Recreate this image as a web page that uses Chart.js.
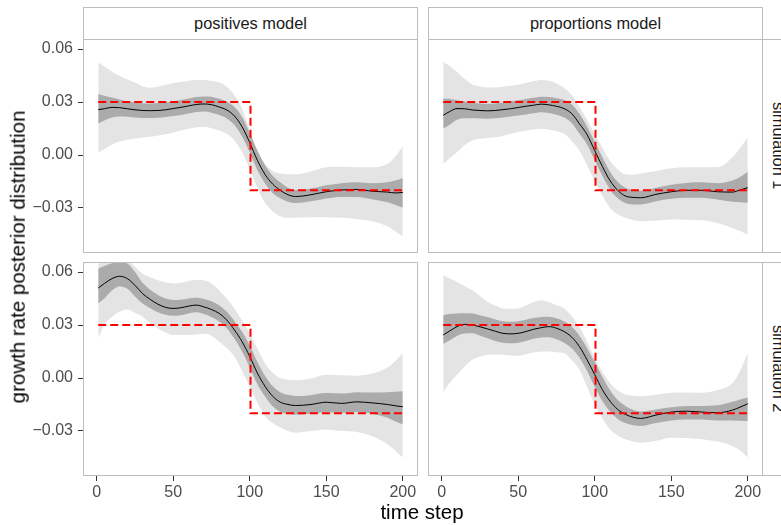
<!DOCTYPE html>
<html>
<head>
<meta charset="utf-8">
<script src="https://cdn.jsdelivr.net/npm/chart.js@4.4.1/dist/chart.umd.min.js"></script>
<style>
  html, body { margin: 0; padding: 0; background: #fff; }
  #wrap { position: relative; width: 781px; height: 525px; overflow: hidden; font-family: "Liberation Sans", Arial, sans-serif; }
  canvas { position: absolute; }
  .strip { position: absolute; box-sizing: border-box; border: 1px solid #bdbdbd; background: #fff; color: #1a1a1a;
           font-size: 16.4px; line-height: 1; display: flex; align-items: center; justify-content: center; white-space: nowrap; }
  .strip.side { writing-mode: vertical-rl; }
  .title { position: absolute; color: #000; font-size: 20.5px; line-height: 1; white-space: nowrap; transform: translate(-50%, -50%); }
</style>
</head>
<body>
<div id="wrap">
  <div class="strip" style="left:83px; top:7px; width:335px; height:33px;">positives model</div>
  <div class="strip" style="left:428px; top:7px; width:335px; height:33px;">proportions model</div>
  <div class="strip side" style="left:762px; top:39px; width:33px; height:214px;">simulation 1</div>
  <div class="strip side" style="left:762px; top:262px; width:33px; height:214px;">simulation 2</div>

  <canvas id="c11" width="418" height="214" style="left:0px; top:39px;"></canvas>
  <canvas id="c12" width="335" height="214" style="left:428px; top:39px;"></canvas>
  <canvas id="c21" width="418" height="249" style="left:0px; top:262px;"></canvas>
  <canvas id="c22" width="335" height="249" style="left:428px; top:262px;"></canvas>

  <div class="title" style="left:18px; top:257px; transform: translate(-50%, -50%) rotate(-90deg);">growth rate posterior distribution</div>
  <div class="title" style="left:422px; top:512px;">time step</div>
</div>

<script>
// time steps at which the posterior summaries are read
const timeSteps = [1, 5, 10, 15, 20, 25, 30, 35, 40, 45, 50, 55, 60, 65, 70, 75, 80, 85, 90, 95, 100,
                   105, 110, 115, 120, 125, 130, 140, 150, 160, 170, 180, 190, 195, 200];

// true growth rate (step)
const truthSteps = [1, 100.5, 100.5, 200];
const truthValues = [0.03, 0.03, -0.02, -0.02];

const xTicks = [0, 50, 100, 150, 200];
const yTicks = [-0.03, 0, 0.03, 0.06];

// positives model, simulation 1
const posSim1Median = [0.0257, 0.0262, 0.0270, 0.0268, 0.0262, 0.0256, 0.0252, 0.0251, 0.0252, 0.0256, 0.0263,
  0.0270, 0.0278, 0.0286, 0.0289, 0.0285, 0.0272, 0.0255, 0.0221, 0.0160, 0.0070, -0.0030, -0.0110, -0.0165,
  -0.0200, -0.0225, -0.0235, -0.0225, -0.0208, -0.0198, -0.0195, -0.0205, -0.0210, -0.0215, -0.0212];
const posSim1DarkHi = [0.0345, 0.0335, 0.0325, 0.0315, 0.0305, 0.0298, 0.0293, 0.0292, 0.0294, 0.0298, 0.0305,
  0.0312, 0.0320, 0.0328, 0.0332, 0.0330, 0.0318, 0.0302, 0.0272, 0.0215, 0.0125, 0.0025, -0.0058, -0.0117,
  -0.0155, -0.0185, -0.0198, -0.0190, -0.0172, -0.0160, -0.0155, -0.0160, -0.0155, -0.0145, -0.0130];
const posSim1DarkLo = [0.0177, 0.0195, 0.0212, 0.0218, 0.0216, 0.0212, 0.0210, 0.0210, 0.0211, 0.0215, 0.0221,
  0.0227, 0.0235, 0.0243, 0.0246, 0.0240, 0.0226, 0.0207, 0.0170, 0.0105, 0.0015, -0.0085, -0.0162, -0.0215,
  -0.0245, -0.0265, -0.0272, -0.0262, -0.0246, -0.0238, -0.0238, -0.0250, -0.0268, -0.0282, -0.0298];
const posSim1LightHi = [0.0524, 0.0501, 0.0472, 0.0448, 0.0429, 0.0410, 0.0390, 0.0381, 0.0387, 0.0398, 0.0406,
  0.0413, 0.0421, 0.0425, 0.0425, 0.0419, 0.0410, 0.0387, 0.0339, 0.0263, 0.0139, 0.0025, -0.0051, -0.0090,
  -0.0105, -0.0109, -0.0109, -0.0093, -0.0070, -0.0067, -0.0070, -0.0070, -0.0051, -0.0010, 0.0048];
const posSim1LightLo = [0.0015, 0.0034, 0.0059, 0.0076, 0.0086, 0.0093, 0.0099, 0.0103, 0.0110, 0.0118, 0.0128,
  0.0139, 0.0149, 0.0156, 0.0158, 0.0152, 0.0139, 0.0120, 0.0082, 0.0015, -0.0080, -0.0185, -0.0270, -0.0318,
  -0.0347, -0.0356, -0.0356, -0.0352, -0.0352, -0.0356, -0.0362, -0.0375, -0.0404, -0.0432, -0.0461];

// proportions model, simulation 1
const propSim1Median = [0.0225, 0.0245, 0.0263, 0.0262, 0.0255, 0.0252, 0.0250, 0.0252, 0.0257, 0.0262, 0.0269,
  0.0276, 0.0282, 0.0288, 0.0284, 0.0276, 0.0263, 0.0234, 0.0177, 0.0115, 0.0025, -0.0065, -0.0145, -0.0200,
  -0.0232, -0.0240, -0.0242, -0.0223, -0.0208, -0.0200, -0.0200, -0.0208, -0.0210, -0.0198, -0.0185];
const propSim1DarkHi = [0.0320, 0.0318, 0.0310, 0.0303, 0.0296, 0.0292, 0.0290, 0.0292, 0.0298, 0.0304, 0.0310,
  0.0317, 0.0324, 0.0330, 0.0328, 0.0322, 0.0312, 0.0287, 0.0233, 0.0160, 0.0075, -0.0013, -0.0095, -0.0153,
  -0.0185, -0.0198, -0.0202, -0.0185, -0.0168, -0.0158, -0.0155, -0.0160, -0.0145, -0.0125, -0.0095];
const propSim1DarkLo = [0.0150, 0.0170, 0.0200, 0.0208, 0.0208, 0.0207, 0.0206, 0.0208, 0.0213, 0.0218, 0.0224,
  0.0230, 0.0236, 0.0242, 0.0238, 0.0228, 0.0212, 0.0180, 0.0120, 0.0060, -0.0030, -0.0118, -0.0195, -0.0245,
  -0.0272, -0.0280, -0.0280, -0.0262, -0.0248, -0.0242, -0.0242, -0.0252, -0.0265, -0.0268, -0.0270];
const propSim1LightHi = [0.0530, 0.0505, 0.0470, 0.0430, 0.0400, 0.0388, 0.0383, 0.0383, 0.0387, 0.0392, 0.0398,
  0.0408, 0.0418, 0.0425, 0.0420, 0.0405, 0.0380, 0.0340, 0.0272, 0.0200, 0.0120, 0.0040, -0.0032, -0.0080,
  -0.0109, -0.0112, -0.0105, -0.0090, -0.0075, -0.0070, -0.0070, -0.0070, -0.0013, 0.0040, 0.0101];
const propSim1LightLo = [-0.0051, -0.0020, 0.0015, 0.0055, 0.0082, 0.0092, 0.0097, 0.0100, 0.0108, 0.0120, 0.0130,
  0.0138, 0.0145, 0.0149, 0.0145, 0.0135, 0.0120, 0.0080, 0.0025, -0.0060, -0.0147, -0.0230, -0.0300, -0.0335,
  -0.0356, -0.0368, -0.0375, -0.0372, -0.0365, -0.0366, -0.0370, -0.0385, -0.0413, -0.0430, -0.0451];

// positives model, simulation 2
const posSim2Median = [0.0510, 0.0535, 0.0563, 0.0576, 0.0563, 0.0525, 0.0478, 0.0445, 0.0418, 0.0400, 0.0394,
  0.0398, 0.0407, 0.0413, 0.0403, 0.0388, 0.0366, 0.0328, 0.0272, 0.0206, 0.0122, 0.0028, -0.0047, -0.0103,
  -0.0137, -0.0150, -0.0156, -0.0150, -0.0137, -0.0144, -0.0135, -0.0141, -0.0150, -0.0157, -0.0163];
const posSim2DarkHi = [0.0619, 0.0635, 0.0650, 0.0655, 0.0648, 0.0600, 0.0540, 0.0500, 0.0470, 0.0450, 0.0442,
  0.0443, 0.0450, 0.0455, 0.0448, 0.0435, 0.0412, 0.0375, 0.0322, 0.0262, 0.0185, 0.0090, 0.0012, -0.0045,
  -0.0080, -0.0095, -0.0102, -0.0097, -0.0085, -0.0088, -0.0080, -0.0082, -0.0080, -0.0078, -0.0075];
const posSim2DarkLo = [0.0422, 0.0450, 0.0495, 0.0520, 0.0505, 0.0462, 0.0422, 0.0395, 0.0372, 0.0358, 0.0352,
  0.0355, 0.0365, 0.0372, 0.0362, 0.0345, 0.0320, 0.0282, 0.0222, 0.0150, 0.0060, -0.0035, -0.0105, -0.0160,
  -0.0192, -0.0203, -0.0208, -0.0203, -0.0192, -0.0197, -0.0192, -0.0202, -0.0225, -0.0245, -0.0263];
const posSim2LightHi = [0.0647, 0.0660, 0.0670, 0.0670, 0.0665, 0.0630, 0.0590, 0.0570, 0.0553, 0.0542, 0.0535,
  0.0540, 0.0550, 0.0555, 0.0553, 0.0535, 0.0497, 0.0450, 0.0394, 0.0325, 0.0253, 0.0165, 0.0084, 0.0030,
  0.0000, -0.0010, -0.0013, -0.0003, 0.0019, 0.0015, 0.0013, 0.0025, 0.0060, 0.0095, 0.0141];
const posSim2LightLo = [0.0225, 0.0300, 0.0347, 0.0375, 0.0388, 0.0370, 0.0347, 0.0310, 0.0281, 0.0258, 0.0244,
  0.0244, 0.0244, 0.0247, 0.0250, 0.0240, 0.0206, 0.0170, 0.0122, 0.0040, -0.0050, -0.0140, -0.0216, -0.0255,
  -0.0281, -0.0300, -0.0310, -0.0300, -0.0291, -0.0300, -0.0306, -0.0330, -0.0375, -0.0410, -0.0450];

// proportions model, simulation 2
const propSim2Median = [0.0244, 0.0265, 0.0291, 0.0304, 0.0300, 0.0290, 0.0278, 0.0265, 0.0253, 0.0250, 0.0253,
  0.0263, 0.0276, 0.0285, 0.0291, 0.0282, 0.0263, 0.0231, 0.0178, 0.0103, 0.0019, -0.0066, -0.0131, -0.0178,
  -0.0206, -0.0222, -0.0229, -0.0210, -0.0193, -0.0188, -0.0193, -0.0197, -0.0182, -0.0165, -0.0146];
const propSim2DarkHi = [0.0356, 0.0362, 0.0366, 0.0367, 0.0366, 0.0356, 0.0345, 0.0332, 0.0322, 0.0319, 0.0322,
  0.0330, 0.0340, 0.0346, 0.0347, 0.0338, 0.0320, 0.0290, 0.0240, 0.0170, 0.0090, 0.0005, -0.0070, -0.0125,
  -0.0158, -0.0180, -0.0190, -0.0178, -0.0165, -0.0159, -0.0158, -0.0155, -0.0135, -0.0122, -0.0110];
const propSim2DarkLo = [0.0193, 0.0212, 0.0238, 0.0252, 0.0253, 0.0240, 0.0225, 0.0210, 0.0200, 0.0197, 0.0200,
  0.0210, 0.0222, 0.0230, 0.0231, 0.0220, 0.0200, 0.0168, 0.0115, 0.0040, -0.0050, -0.0130, -0.0190, -0.0232,
  -0.0255, -0.0268, -0.0272, -0.0255, -0.0240, -0.0235, -0.0235, -0.0240, -0.0240, -0.0242, -0.0244];
const propSim2LightHi = [0.0582, 0.0565, 0.0544, 0.0520, 0.0497, 0.0465, 0.0432, 0.0410, 0.0394, 0.0392, 0.0394,
  0.0410, 0.0430, 0.0441, 0.0430, 0.0412, 0.0394, 0.0350, 0.0291, 0.0205, 0.0113, 0.0035, -0.0028, -0.0070,
  -0.0094, -0.0100, -0.0103, -0.0095, -0.0084, -0.0082, -0.0084, -0.0070, -0.0028, 0.0040, 0.0141];
const propSim2LightLo = [-0.0084, -0.0030, 0.0019, 0.0065, 0.0103, 0.0120, 0.0131, 0.0133, 0.0131, 0.0128, 0.0126,
  0.0135, 0.0145, 0.0150, 0.0150, 0.0146, 0.0141, 0.0100, 0.0047, -0.0050, -0.0150, -0.0228, -0.0291, -0.0325,
  -0.0347, -0.0360, -0.0366, -0.0355, -0.0338, -0.0340, -0.0347, -0.0360, -0.0385, -0.0410, -0.0450];

const tickFont = { family: '"Liberation Sans", Arial, sans-serif', size: 16 };

function xy(xs, ys) {
  return xs.map((x, i) => ({ x: x, y: ys[i] }));
}

// grey frame round each panel, drawn over the data like ggplot's panel.border
const panelBorder = {
  id: 'panelBorder',
  afterDraw(chart) {
    const a = chart.chartArea;
    const ctx = chart.ctx;
    ctx.save();
    ctx.strokeStyle = '#bdbdbd';
    ctx.lineWidth = 1;
    ctx.strokeRect(a.left + 0.5, a.top + 0.5, a.right - a.left - 1, a.bottom - a.top - 1);
    ctx.restore();
  }
};

function band(values, fill, color) {
  return {
    data: xy(timeSteps, values),
    borderWidth: 0,
    borderColor: 'rgba(0,0,0,0)',
    backgroundColor: color,
    fill: fill,
    pointRadius: 0,
    cubicInterpolationMode: 'monotone'
  };
}

function makePanel(id, med, darkLo, darkHi, lightLo, lightHi, showY, showX) {
  new Chart(document.getElementById(id), {
    type: 'line',
    data: {
      datasets: [
        { data: xy(truthSteps, truthValues), borderColor: '#ff0000', borderWidth: 2, borderDash: [8, 4],
          pointRadius: 0, fill: false, tension: 0 },
        { data: xy(timeSteps, med), borderColor: '#000000', borderWidth: 1, pointRadius: 0, fill: false,
          cubicInterpolationMode: 'monotone' },
        band(darkHi, '+1', '#ababab'),
        band(darkLo, false, '#ababab'),
        band(lightHi, '+1', '#e4e4e4'),
        band(lightLo, false, '#e4e4e4')
      ]
    },
    options: {
      responsive: false,
      animation: false,
      events: [],
      layout: { padding: 0 },
      plugins: { legend: { display: false }, tooltip: { enabled: false } },
      scales: {
        x: {
          type: 'linear',
          display: showX,
          min: -8.95,
          max: 209.95,
          afterBuildTicks: s => { s.ticks = xTicks.map(v => ({ value: v })); },
          afterFit: s => { s.height = showX ? 35 : 0; s.paddingLeft = 0; s.paddingRight = 0; },
          grid: { drawOnChartArea: false, drawTicks: true, tickLength: 5, color: '#333333' },
          border: { display: false },
          ticks: { font: tickFont, color: '#4d4d4d', padding: 2, maxRotation: 0, callback: v => String(v) }
        },
        y: {
          type: 'linear',
          display: showY,
          min: -0.0555,
          max: 0.0657,
          afterBuildTicks: s => { s.ticks = yTicks.map(v => ({ value: v })); },
          afterFit: s => { s.width = showY ? 83 : 0; s.paddingTop = 0; s.paddingBottom = 0; },
          grid: { drawOnChartArea: false, drawTicks: true, tickLength: 5, color: '#333333' },
          border: { display: false },
          ticks: { font: tickFont, color: '#4d4d4d', padding: 5,
                   callback: v => (v < 0 ? '\u2212' : '') + Math.abs(v).toFixed(2) }
        }
      }
    },
    plugins: [panelBorder]
  });
}

makePanel('c11', posSim1Median, posSim1DarkLo, posSim1DarkHi, posSim1LightLo, posSim1LightHi, true, false);
makePanel('c12', propSim1Median, propSim1DarkLo, propSim1DarkHi, propSim1LightLo, propSim1LightHi, false, false);
makePanel('c21', posSim2Median, posSim2DarkLo, posSim2DarkHi, posSim2LightLo, posSim2LightHi, true, true);
makePanel('c22', propSim2Median, propSim2DarkLo, propSim2DarkHi, propSim2LightLo, propSim2LightHi, false, true);
</script>
</body>
</html>
